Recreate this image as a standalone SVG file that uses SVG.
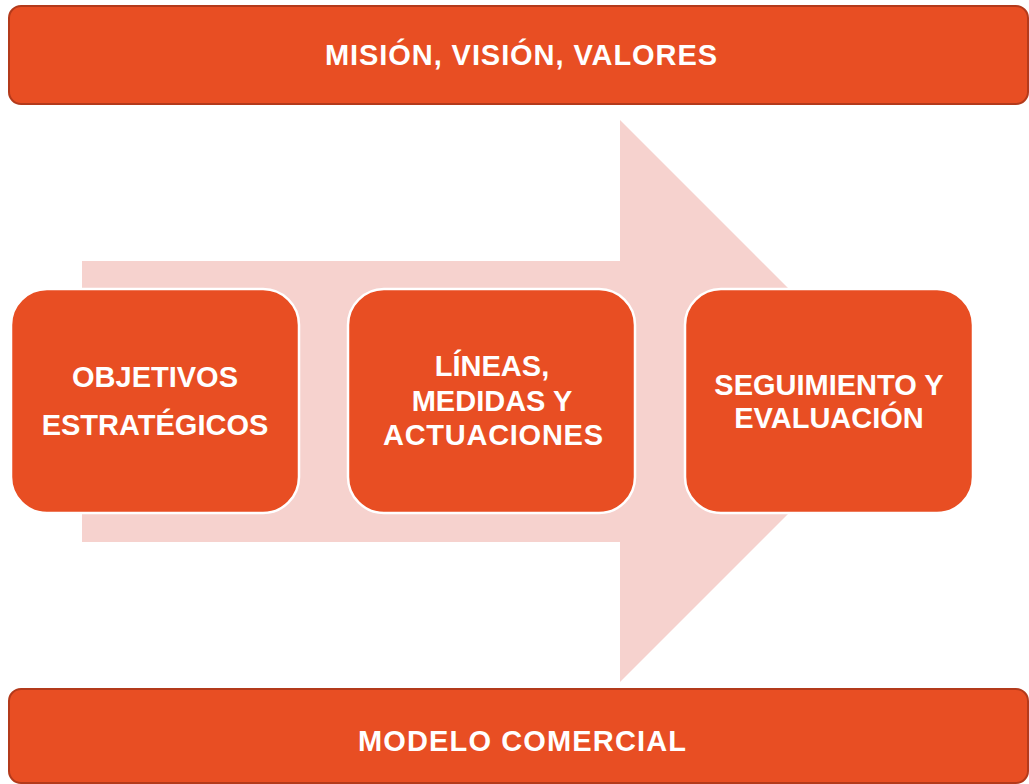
<svg xmlns="http://www.w3.org/2000/svg" width="1029" height="784" viewBox="0 0 1029 784">
<style>
.bar{fill:#e84e23;stroke:#b33a1b;stroke-width:2}
.box{fill:#e84e23;stroke:#ffffff;stroke-width:2.5}
.t{font-family:"Liberation Sans",Arial,sans-serif;font-weight:bold;fill:#ffffff;text-anchor:middle}
</style>
<rect width="1029" height="784" fill="#ffffff"/>
<g id="connectors">
<polygon points="82,261 620,261 620,120 901,401 620,682 620,542 82,542" fill="#f6d2ce"/>
</g>
<g id="top">
<rect class="bar" x="9" y="6" width="1019" height="98" rx="12"/>
<text class="t" x="521" y="65" font-size="29" textLength="392" lengthAdjust="spacing">MISIÓN, VISIÓN, VALORES</text>
</g>
<g id="n1">
<rect class="box" x="11" y="289" width="288" height="224" rx="36"/>
<text class="t" x="155" y="387" font-size="29">OBJETIVOS</text>
<text class="t" x="155" y="435" font-size="29">ESTRATÉGICOS</text>
</g>
<g id="n2">
<rect class="box" x="348" y="289" width="287" height="224" rx="36"/>
<text class="t" x="492" y="376" font-size="29">LÍNEAS,</text>
<text class="t" x="492" y="411" font-size="29">MEDIDAS Y</text>
<text class="t" x="493" y="445" font-size="29" textLength="220" lengthAdjust="spacing">ACTUACIONES</text>
</g>
<g id="n3">
<rect class="box" x="685" y="289" width="288" height="224" rx="36"/>
<text class="t" x="829" y="395" font-size="29">SEGUIMIENTO Y</text>
<text class="t" x="829" y="428" font-size="29">EVALUACIÓN</text>
</g>
<g id="bottom">
<rect class="bar" x="9" y="689" width="1019" height="94" rx="12"/>
<text class="t" x="522" y="751" font-size="29" textLength="328" lengthAdjust="spacing">MODELO COMERCIAL</text>
</g>
</svg>
